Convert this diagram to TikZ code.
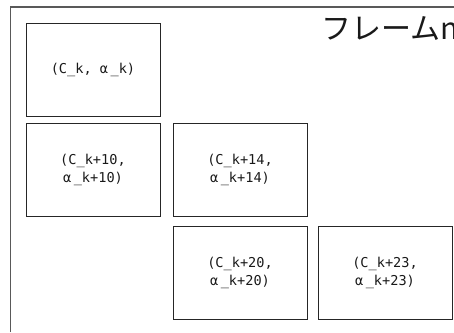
\documentclass[tikz,border=0pt]{standalone}
\usepackage{fontspec}
\setmainfont{Noto Sans CJK JP}
\newfontfamily\cellfont{DejaVu Sans Mono}
\begin{document}
\begin{tikzpicture}[x=1pt,y=-1pt,
  cell/.style={draw=black!85,line width=0.8pt,minimum width=134pt,minimum height=93pt,
    inner sep=0pt,align=center,font=\cellfont\fontsize{13.6}{18}\selectfont,text=black!90},
  frameline/.style={draw=black!65,line width=1.2pt}]
\useasboundingbox (0,0) rectangle (454,332);
\clip (0,0) rectangle (454,332);
\coordinate (fl) at (10.5,332);
\coordinate (tl) at (10.5,7);
\coordinate (tr) at (454,7);
\draw[frameline] (fl) -- (tl) -- (tr);
\node[anchor=base west,inner sep=0pt,font=\fontsize{30}{34}\selectfont,text=black!90] (title) at (321,39) {フレームn};
\node[cell] (b1) at (93,69.5) {\raisebox{-4pt}{(C\_k, α\hspace{2.5pt}\_k)}};
\node[cell] (b2) at (93,170) {(C\_k+10,\\α\hspace{2.5pt}\_k+10)};
\node[cell] (b3) at (240,170) {(C\_k+14,\\α\hspace{2.5pt}\_k+14)};
\node[cell] (b4) at (240,273) {(C\_k+20,\\α\hspace{2.5pt}\_k+20)};
\node[cell] (b5) at (385,273) {(C\_k+23,\\α\hspace{2.5pt}\_k+23)};
\end{tikzpicture}
\end{document}
